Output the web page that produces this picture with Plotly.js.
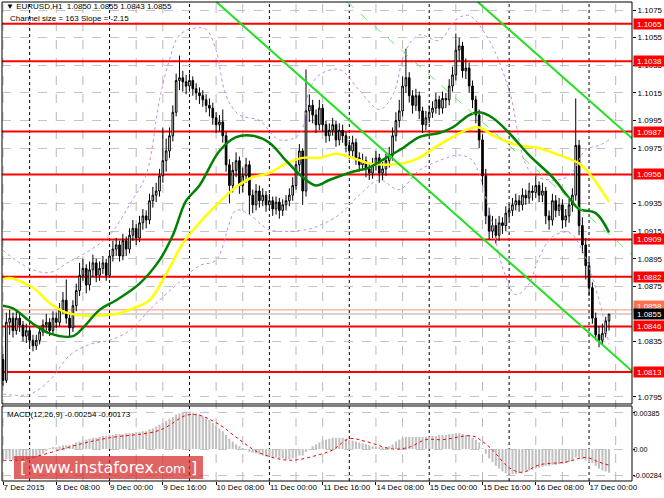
<!DOCTYPE html>
<html><head><meta charset="utf-8">
<script src="https://cdn.plot.ly/plotly-3.0.1.min.js"></script>
<style>html,body{margin:0;padding:0;background:#fff}#chart{width:664px;height:498px}</style>
</head><body><div id="chart"></div>
<script>
// ---------- DATA ----------
const firstOpen = 1.0822;
const close = [
1.0807,1.0849,1.0852,1.0843,1.0852,1.0847,1.0839,1.0843,1.0836,1.0832,
1.0836,1.0842,1.0847,1.0849,1.0843,1.0852,1.0849,1.0858,1.0865,1.0852,
1.0845,1.0861,1.0872,1.0883,1.0888,1.0876,1.0887,1.0892,1.0883,1.0888,
1.0892,1.0883,1.0897,1.0902,1.0905,1.0897,1.0908,1.0902,1.0912,1.0917,
1.0910,1.0921,1.0926,1.0923,1.0937,1.0941,1.0944,1.0955,1.0966,1.0973,
1.0984,1.1001,1.1024,1.1026,1.1023,1.1020,1.1024,1.1018,1.1015,1.1013,
1.1010,1.1006,1.1004,1.0997,1.0992,1.0994,1.0984,1.0963,1.0948,1.0959,
1.0966,1.0948,1.0955,1.0963,1.0941,1.0934,1.0944,1.0937,1.0941,1.0934,
1.0937,1.0931,1.0936,1.0930,1.0934,1.0937,1.0941,1.0948,1.0963,1.0973,
1.0944,1.1002,1.1006,1.0999,1.0992,1.1004,1.0992,1.0984,1.0988,1.0992,
1.0981,1.0988,1.0984,1.0977,1.0973,1.0979,1.0968,1.0963,1.0966,1.0960,
1.0957,1.0963,1.0968,1.0957,1.0960,1.0966,1.0970,1.0984,1.0995,1.1002,
1.1020,1.1026,1.1013,1.1006,1.1013,1.1002,1.0992,1.0997,1.1001,1.1004,
1.1010,1.1004,1.1011,1.1010,1.1020,1.1028,1.1046,1.1049,1.1031,1.1033,
1.1020,1.1010,1.0999,1.0981,1.0955,1.0926,1.0915,1.0919,1.0912,1.0921,
1.0919,1.0928,1.0930,1.0934,1.0937,1.0934,1.0941,1.0939,1.0944,1.0943,
1.0948,1.0941,1.0944,1.0926,1.0923,1.0937,1.0930,1.0934,1.0923,1.0926,
1.0934,1.0941,1.0977,1.0919,1.0905,1.0890,1.0874,1.0852,1.0840,1.0836,
1.0841,1.0850,1.0855];
const high = [
1.0826,1.0856,1.0858,1.0856,1.0857,1.0855,1.0850,1.0848,1.0846,1.0840,
1.0840,1.0846,1.0851,1.0855,1.0852,1.0857,1.0856,1.0863,1.0871,1.0880,
1.0856,1.0865,1.0877,1.0892,1.0895,1.0891,1.0893,1.0898,1.0895,1.0893,
1.0897,1.0895,1.0901,1.0908,1.0910,1.0908,1.0913,1.0911,1.0917,1.0923,
1.0920,1.0926,1.0931,1.0930,1.0942,1.0947,1.0950,1.0960,1.0990,1.0982,
1.0990,1.1006,1.1029,1.1042,1.1031,1.1028,1.1029,1.1027,1.1022,1.1019,
1.1017,1.1014,1.1011,1.1008,1.1001,1.0999,1.1003,1.0987,1.0967,1.0965,
1.0972,1.0969,1.0961,1.0968,1.0966,1.0945,1.0949,1.0948,1.0946,1.0944,
1.0942,1.0940,1.0940,1.0939,1.0938,1.0941,1.0946,1.0954,1.0968,1.0978,
1.0975,1.1032,1.1014,1.1010,1.1003,1.1010,1.1007,1.0995,1.0993,1.0997,
1.0995,1.0993,1.0992,1.0987,1.0981,1.0984,1.0982,1.0972,1.0971,1.0969,
1.0964,1.0968,1.0973,1.0971,1.0965,1.0971,1.0976,1.0990,1.1001,1.1010,
1.1027,1.1047,1.1030,1.1017,1.1018,1.1016,1.1005,1.1002,1.1006,1.1009,
1.1015,1.1013,1.1016,1.1015,1.1025,1.1034,1.1058,1.1055,1.1052,1.1040,
1.1037,1.1024,1.1013,1.1003,1.0985,1.0960,1.0932,1.0926,1.0924,1.0926,
1.0925,1.0933,1.0935,1.0939,1.0942,1.0941,1.0946,1.0945,1.0950,1.0948,
1.0956,1.0951,1.0950,1.0947,1.0930,1.0942,1.0941,1.0939,1.0938,1.0931,
1.0939,1.0946,1.1011,1.0981,1.0925,1.0910,1.0895,1.0878,1.0856,1.0846,
1.0848,1.0853,1.0855];
const low = [
1.0803,1.0805,1.0840,1.0838,1.0840,1.0842,1.0835,1.0834,1.0831,1.0828,
1.0829,1.0833,1.0839,1.0843,1.0839,1.0840,1.0845,1.0846,1.0855,1.0848,
1.0838,1.0842,1.0857,1.0868,1.0879,1.0870,1.0872,1.0882,1.0878,1.0879,
1.0884,1.0879,1.0881,1.0893,1.0897,1.0893,1.0894,1.0897,1.0899,1.0908,
1.0905,1.0907,1.0916,1.0917,1.0920,1.0932,1.0936,1.0940,1.0950,1.0958,
1.0968,1.0980,1.0998,1.1017,1.1016,1.1014,1.1016,1.1013,1.1010,1.1007,
1.1005,1.1001,1.0998,1.0992,1.0986,1.0987,1.0979,1.0958,1.0935,1.0943,
1.0954,1.0942,1.0943,1.0950,1.0927,1.0928,1.0930,1.0932,1.0933,1.0929,
1.0930,1.0926,1.0927,1.0924,1.0926,1.0930,1.0933,1.0937,1.0945,1.0958,
1.0934,1.0940,1.0994,1.0993,1.0986,1.0988,1.0987,1.0979,1.0980,1.0984,
1.0976,1.0977,1.0979,1.0972,1.0967,1.0969,1.0963,1.0958,1.0959,1.0954,
1.0952,1.0953,1.0959,1.0950,1.0952,1.0955,1.0961,1.0966,1.0980,1.0990,
1.0998,1.1015,1.1008,1.1000,1.1002,1.0996,1.0986,1.0988,1.0993,1.0997,
1.1000,1.0999,1.1000,1.1004,1.1006,1.1016,1.1024,1.1038,1.1026,1.1025,
1.1015,1.1004,1.0993,1.0975,1.0948,1.0920,1.0909,1.0910,1.0906,1.0908,
1.0913,1.0915,1.0923,1.0926,1.0930,1.0929,1.0930,1.0934,1.0935,1.0937,
1.0939,1.0936,1.0936,1.0920,1.0916,1.0919,1.0925,1.0926,1.0917,1.0918,
1.0921,1.0929,1.0937,1.0912,1.0899,1.0880,1.0868,1.0848,1.0836,1.0831,
1.0833,1.0838,1.0843];
const macdHist = [
-0.0011,-0.0011,-0.0011,-0.0012,-0.0012,-0.0011,-0.0011,-0.0011,-0.0010,-0.0010,
-0.0009,-0.0007,-0.0005,-0.0002,0.0001,0.0002,0.0002,0.0003,0.0004,0.0004,
0.0004,0.0005,0.0007,0.0008,0.0009,0.0010,0.0011,0.0012,0.0012,0.0013,
0.0014,0.0014,0.0015,0.0015,0.0016,0.0016,0.0016,0.0017,0.0017,0.0017,
0.0018,0.0018,0.0019,0.0019,0.0021,0.0022,0.0024,0.0026,0.0028,0.0030,
0.0032,0.0034,0.0037,0.0038,0.0039,0.0040,0.0040,0.0039,0.0038,0.0037,
0.0035,0.0033,0.0031,0.0028,0.0025,0.0022,0.0019,0.0015,0.0011,0.0008,
0.0005,0.0003,0.0001,-0.0001,-0.0003,-0.0004,-0.0005,-0.0006,-0.0007,-0.0008,
-0.0008,-0.0009,-0.0009,-0.0010,-0.0010,-0.0011,-0.0011,-0.0010,-0.0009,-0.0007,
-0.0007,-0.0003,0.0000,0.0003,0.0005,0.0007,0.0009,0.0010,0.0011,0.0012,
0.0012,0.0012,0.0012,0.0011,0.0010,0.0009,0.0008,0.0007,0.0006,0.0005,
0.0004,0.0003,0.0003,0.0002,0.0002,0.0002,0.0003,0.0005,0.0008,0.0010,
0.0012,0.0013,0.0013,0.0013,0.0013,0.0013,0.0013,0.0013,0.0013,0.0014,
0.0014,0.0015,0.0015,0.0015,0.0016,0.0016,0.0017,0.0017,0.0016,0.0015,
0.0014,0.0012,0.0010,0.0007,0.0001,-0.0005,-0.0010,-0.0014,-0.0018,-0.0021,
-0.0024,-0.0026,-0.0027,-0.0027,-0.0027,-0.0026,-0.0025,-0.0024,-0.0023,-0.0022,
-0.0021,-0.0020,-0.0019,-0.0018,-0.0018,-0.0017,-0.0017,-0.0016,-0.0016,-0.0015,
-0.0014,-0.0013,-0.0009,-0.0009,-0.0011,-0.0012,-0.0014,-0.0015,-0.0018,-0.0021,
-0.0023,-0.0024,-0.00254];
const sigIdx = [0,5,12,24,32,47,55,59,65,71,77,86,95,99,104,109,117,122,127,132,141,144,147,152,156,161,169,175,179,182];
const sigVal = [-0.0012,-0.0012,-0.0006,0.0006,0.0012,0.0020,0.0036,0.0036,0.0026,0.0010,-0.0004,-0.0012,-0.0006,-0.0001,0.0011,0.0008,0.0000,0.0002,0.0010,0.0010,0.0014,0.0008,-0.0001,-0.0020,-0.0025,-0.0017,-0.0014,-0.0009,-0.0014,-0.00173];
const greenIdx = [0,3,9,14,21,24,29,34,41,47,51,55,59,65,70,75,80,85,90,94,98,105,110,115,120,125,131,135,140,143,147,152,158,165,170,173,178,182];
const greenVal = [1.0861,1.0859,1.0848,1.0841,1.0839,1.0845,1.0858,1.0865,1.0877,1.0894,1.0912,1.0937,1.0948,1.0973,1.0983,1.0984,1.0979,1.0966,1.0954,1.0948,1.0952,1.0958,1.0961,1.0968,1.0975,1.0983,1.0986,1.0990,1.0999,1.1001,1.0997,1.0986,1.0970,1.0954,1.0939,1.0931,1.0928,1.0914];
const yellowIdx = [0,2,9,14,19,24,29,34,39,44,49,54,59,65,70,75,80,85,90,95,100,105,110,115,120,125,130,135,140,143,148,155,161,167,173,177,182];
const yellowVal = [1.0880,1.0881,1.0874,1.0863,1.0856,1.0854,1.0854,1.0855,1.0859,1.0865,1.0884,1.0906,1.0921,1.0936,1.0947,1.0954,1.0957,1.0964,1.0968,1.0968,1.0971,1.0968,1.0964,1.0963,1.0964,1.0968,1.0976,1.0983,1.0989,1.0990,1.0983,1.0977,1.0975,1.0970,1.0964,1.0954,1.0936];
const upperBandIdx = [0,8,14,20,26,32,38,43,47,50,53,58,61,64,67,71,77,83,89,92,95,101,107,113,117,121,125,131,136,140,146,152,158,164,170,175,179,182];
const upperBandVal = [1.0901,1.0888,1.0885,1.0893,1.0901,1.0912,1.0934,1.0956,1.1010,1.1039,1.1057,1.1062,1.1061,1.1046,1.1013,1.0999,1.0995,1.0981,1.0985,1.1017,1.1028,1.1032,1.1017,1.1003,1.1013,1.1046,1.1057,1.1053,1.1068,1.1071,1.1053,1.1017,1.0959,1.0952,1.0955,1.0974,1.0977,1.0981];
const lowerBandIdx = [0,8,14,20,26,32,38,44,52,59,64,70,74,80,91,95,101,107,113,119,125,131,137,141,146,150,154,158,161,165,170,174,179,182];
const lowerBandVal = [1.0797,1.0797,1.0807,1.0825,1.0833,1.0836,1.0843,1.0858,1.0876,1.0890,1.0894,1.0930,1.0927,1.0916,1.0916,1.0919,1.0927,1.0941,1.0952,1.0945,1.0959,1.0966,1.0970,1.0966,1.0930,1.0889,1.0869,1.0877,1.0896,1.0911,1.0914,1.0901,1.0865,1.0833];
const chanUpperX = [142.6, 188.9], chanUpperY = [1.10808, 1.09822];
const chanLowerX = [64.1, 188.9],  chanLowerY = [1.10808, 1.08137];
const chanMidX   = [103.35, 188.9], chanMidY  = [1.10808, 1.0898];
const levels = [1.1065, 1.1038, 1.0987, 1.0956, 1.0909, 1.0882, 1.0846, 1.0813];
const askPrice = 1.0858, bidPrice = 1.0855;
const priceTicks = [1.1075,1.1055,1.1035,1.1015,1.0995,1.0975,1.0935,1.0915,1.0895,1.0875,1.0835,1.0795];
const macdTicks = [0.00385, 0.0, -0.00284];
const macdTickText = ['0.00385','0.00','-0.00284'];
const timeTickIdx = [0,16,32,48,64,80,96,112,128,144,160,176];
const timeTickText = ['7 Dec 2015','8 Dec 08:00','9 Dec 00:00','9 Dec 16:00','10 Dec 08:00','11 Dec 00:00','11 Dec 16:00','14 Dec 08:00','15 Dec 00:00','15 Dec 16:00','16 Dec 08:00','17 Dec 00:00'];
const dayStartIdx = [8,32,56,80,104,128,152,176];
const header1 = '\u25BC EURUSD,H1  1.0850 1.0855 1.0843 1.0855';
const header2 = 'Channel size = 163 Slope = -2.15';
const macdLabel = 'MACD(12,26,9) -0.00254 -0.00173';

// ---------- BUILD ----------
const idx = close.map((_, i) => i);
const open = close.map((c, i) => i === 0 ? firstOpen : close[i - 1]);
const FONT = 'Liberation Sans, Arial, sans-serif';
const FS = 8;
const MAIN_DOM = [0.1608, 1], MACD_DOM = [0, 0.1566];

const traces = [
  {type:'scatter', mode:'lines', x:upperBandIdx, y:upperBandVal, line:{color:'rgb(196,140,235)', width:1, dash:'dot', shape:'spline'}, hoverinfo:'skip'},
  {type:'scatter', mode:'lines', x:lowerBandIdx, y:lowerBandVal, line:{color:'rgb(196,140,235)', width:1, dash:'dot', shape:'spline'}, hoverinfo:'skip'},
  {type:'candlestick', x:idx, open:open, high:high, low:low, close:close,
   increasing:{line:{color:'#000', width:1}, fillcolor:'#ffffff'},
   decreasing:{line:{color:'#000', width:1}, fillcolor:'#000000'},
   whiskerwidth:0, hoverinfo:'skip'},
  {type:'scatter', mode:'lines', x:yellowIdx, y:yellowVal, line:{color:'#ffff00', width:2.5, shape:'spline'}, hoverinfo:'skip'},
  {type:'scatter', mode:'lines', x:greenIdx, y:greenVal, line:{color:'#008000', width:2.5, shape:'spline'}, hoverinfo:'skip'},
  {type:'scatter', mode:'lines', x:chanUpperX, y:chanUpperY, line:{color:'#22e022', width:2}, hoverinfo:'skip'},
  {type:'scatter', mode:'lines', x:chanLowerX, y:chanLowerY, line:{color:'#22e022', width:2}, hoverinfo:'skip'},
  {type:'scatter', mode:'lines', x:chanMidX, y:chanMidY, line:{color:'#66ee66', width:1, dash:'dash'}, hoverinfo:'skip'},
  {type:'bar', x:idx, y:macdHist, xaxis:'x', yaxis:'y2', marker:{color:'#c0c0c0', line:{width:0}}, width:0.62, hoverinfo:'skip'},
  {type:'scatter', mode:'lines', x:sigIdx, y:sigVal, xaxis:'x', yaxis:'y2', line:{color:'#ff0000', width:1, dash:'dot', shape:'spline'}, hoverinfo:'skip'}
];

const shapes = [];
for (let g = 0; g <= 184; g += 8) {
  const isDay = dayStartIdx.indexOf(g) >= 0;
  shapes.push({type:'line', layer:'below', xref:'x', yref:'paper', x0:g, x1:g, y0:0, y1:1,
    line:{color: isDay ? '#000000' : '#b8b8b8', width:1, dash: isDay ? 'dot' : 'dash'}});
}
levels.forEach(l => shapes.push({type:'line', layer:'below', xref:'paper', yref:'y', x0:0, x1:1, y0:l, y1:l, line:{color:'#ff0000', width:2}}));
shapes.push({type:'line', layer:'below', xref:'paper', yref:'y', x0:0, x1:1, y0:bidPrice, y1:bidPrice, line:{color:'#d4d4d4', width:2}});
shapes.push({type:'line', layer:'below', xref:'paper', yref:'y', x0:0, x1:1, y0:askPrice, y1:askPrice, line:{color:'#ff9070', width:1}});
shapes.push({type:'rect', xref:'paper', yref:'paper', x0:0, x1:1, y0:MAIN_DOM[0], y1:MAIN_DOM[1], line:{color:'#000', width:1}});
shapes.push({type:'rect', xref:'paper', yref:'paper', x0:0, x1:1, y0:MACD_DOM[0], y1:MACD_DOM[1], line:{color:'#000', width:1}});
shapes.push({type:'rect', xref:'paper', yref:'paper', x0:0.019, x1:0.319, y0:0.004, y1:0.052, fillcolor:'rgba(214,40,40,0.72)', line:{width:0}});

const annotations = [];
const boxAnn = (y, txt, bg) => ({xref:'paper', yref:'y', x:1, xanchor:'left', xshift:1, y:y, yanchor:'middle',
  text:txt, showarrow:false, bgcolor:bg, font:{family:FONT, size:FS, color:'#fff'}, borderpad:0, width:31, height:10, align:'center'});
levels.forEach(l => annotations.push(boxAnn(l, l.toFixed(4), '#ff0000')));
annotations.push(Object.assign(boxAnn(askPrice, askPrice.toFixed(4), '#ff7050'), {yshift:4}));
annotations.push(boxAnn(bidPrice, bidPrice.toFixed(4), '#000000'));
annotations.push({xref:'paper', yref:'paper', x:0.003, y:0.990, xanchor:'left', yanchor:'middle', text:header1, showarrow:false, font:{family:FONT, size:FS, color:'#000'}});
annotations.push({xref:'paper', yref:'paper', x:0.0095, y:0.965, xanchor:'left', yanchor:'middle', text:header2, showarrow:false, font:{family:FONT, size:FS, color:'#000'}});
annotations.push({xref:'paper', yref:'paper', x:0.005, y:0.1378, xanchor:'left', yanchor:'middle', text:macdLabel, showarrow:false, font:{family:FONT, size:FS, color:'#000'}});
annotations.push({xref:'paper', yref:'paper', x:0.169, y:0.028, xanchor:'center', yanchor:'middle', showarrow:false,
  text:'[ www.instaforex<span style="font-size:13px">.com</span> ]', font:{family:'DejaVu Sans, sans-serif', size:16, color:'#ffffff'}});

const layout = {
  width:664, height:498, paper_bgcolor:'#fff', plot_bgcolor:'#fff',
  margin:{l:2, r:32, t:2, b:17}, showlegend:false, dragmode:false,
  font:{family:FONT, size:FS, color:'#000'},
  xaxis:{range:[-0.3,188.9], anchor:'y2', domain:[0,1], tickvals:timeTickIdx, ticktext:timeTickText,
    ticks:'outside', ticklen:3, tickcolor:'#000', ticklabelposition:'outside right', tickangle:0, ticklabelstandoff:-2,
    showgrid:false, zeroline:false, showline:false, rangeslider:{visible:false}, fixedrange:true,
    tickfont:{family:FONT, size:FS, color:'#000'}},
  yaxis:{domain:MAIN_DOM, range:[1.07899,1.10808], side:'right', anchor:'x', tickvals:priceTicks, ticktext:priceTicks.map(v=>v.toFixed(4)),
    ticks:'outside', ticklen:3, tickcolor:'#000', showgrid:true, gridcolor:'#c4c4c4', griddash:'dash', gridwidth:1, zeroline:false,
    fixedrange:true, tickfont:{family:FONT, size:FS, color:'#000'}},
  yaxis2:{domain:MACD_DOM, range:[-0.00342,0.0046], side:'right', anchor:'x', tickvals:macdTicks, ticktext:macdTickText,
    ticks:'outside', ticklen:2, tickcolor:'#000', ticklabelstandoff:-3, showgrid:true, gridcolor:'#c4c4c4', griddash:'dash', zeroline:false,
    fixedrange:true, tickfont:{family:FONT, size:7.2, color:'#000'}},
  shapes:shapes, annotations:annotations, bargap:0.3
};
Plotly.newPlot('chart', traces, layout, {staticPlot:true, displayModeBar:false});
</script></body></html>
